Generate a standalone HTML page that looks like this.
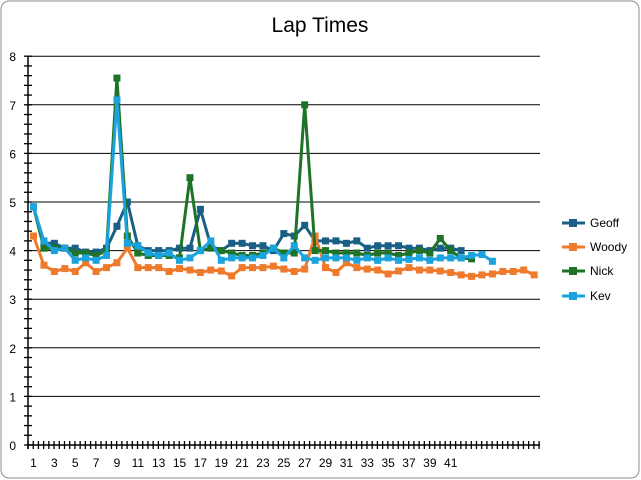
<!DOCTYPE html>
<html><head><meta charset="utf-8"><style>
body{margin:0;background:#fff;}
svg{display:block;font-family:"Liberation Sans",sans-serif;}
</style></head><body>
<svg id="c" width="641" height="480" xmlns="http://www.w3.org/2000/svg">
<rect x="1" y="1" width="638" height="477" rx="8" fill="#fff" stroke="#8c8c8c" stroke-width="1"/>
<text x="320" y="32" font-size="21" text-anchor="middle" fill="#000">Lap Times</text>
<g id="g"></g>
<g font-size="12" fill="#000">
<line x1="562" y1="223" x2="585" y2="223" stroke="#1a5f86" stroke-width="3"/><rect x="569" y="219" width="8" height="8" fill="#1a5f86"/><text x="590" y="227">Geoff</text>
<line x1="562" y1="247" x2="585" y2="247" stroke="#ef7a2c" stroke-width="3"/><rect x="569" y="243" width="8" height="8" fill="#ef7a2c"/><text x="590" y="251">Woody</text>
<line x1="562" y1="271" x2="585" y2="271" stroke="#1e7327" stroke-width="3"/><rect x="569" y="267" width="8" height="8" fill="#1e7327"/><text x="590" y="275">Nick</text>
<line x1="562" y1="296" x2="585" y2="296" stroke="#1aa3dc" stroke-width="3"/><rect x="569" y="292" width="8" height="8" fill="#1aa3dc"/><text x="590" y="300">Kev</text>
</g>
</svg>
<script>
var g=document.getElementById('g'),s='';
function Y(v){return 445-v*48.6;}
function X(i){return 33.5+(i-1)*10.43;}
for(var v=1;v<=8;v++){s+='<line x1="28" x2="540" y1="'+Y(v)+'" y2="'+Y(v)+'" stroke="#000" stroke-width="1"/>';}
for(var v=0;v<=8;v++){s+='<text x="16" y="'+(Y(v)+5)+'" font-size="12" text-anchor="end">'+v+'</text>';}
for(var k=0;k<=40;k++){var y=Y(k*0.2);s+='<line x1="24" x2="32" y1="'+y+'" y2="'+y+'" stroke="#000" stroke-width="1.3"/>';}
for(var i=0;i<=98;i++){var x=28+i*5.215;s+='<line x1="'+x+'" x2="'+x+'" y1="441" y2="449" stroke="#000" stroke-width="1.3"/>';}
s+='<line x1="28" x2="28" y1="'+Y(8)+'" y2="449" stroke="#000" stroke-width="1.5"/>';
s+='<line x1="28" x2="540" y1="445" y2="445" stroke="#000" stroke-width="1.5"/>';
for(var i=1;i<=41;i+=2){s+='<text x="'+X(i)+'" y="467" font-size="12" text-anchor="middle">'+i+'</text>';}
var data={
'#1a5f86':[4.9,4.15,4.15,4.05,4.05,3.97,3.97,4.05,4.5,5.0,4.1,4.0,4.0,4.0,4.05,4.05,4.85,4.1,4.0,4.15,4.15,4.1,4.1,4.0,4.35,4.3,4.52,4.2,4.2,4.2,4.15,4.2,4.05,4.1,4.1,4.1,4.05,4.05,4.0,4.05,4.05,4.0],
'#ef7a2c':[4.3,3.7,3.57,3.63,3.57,3.75,3.57,3.65,3.75,4.05,3.65,3.65,3.65,3.57,3.63,3.6,3.55,3.6,3.58,3.48,3.65,3.65,3.65,3.68,3.62,3.57,3.62,4.3,3.65,3.55,3.75,3.65,3.62,3.6,3.52,3.58,3.65,3.6,3.6,3.58,3.55,3.5,3.47,3.5,3.52,3.57,3.57,3.6,3.5],
'#1e7327':[4.9,4.05,4.05,4.05,3.95,3.95,3.9,4.0,7.55,4.3,3.95,3.9,3.9,3.9,3.85,5.5,4.0,4.05,4.0,3.95,3.9,3.9,3.95,4.05,3.95,3.95,7.0,4.0,4.0,3.95,3.95,3.95,3.9,3.95,3.95,3.9,3.95,4.0,3.95,4.25,4.0,3.85,3.83],
'#1aa3dc':[4.9,4.2,4.0,4.05,3.8,3.85,3.8,3.9,7.1,4.15,4.1,3.95,3.9,3.95,3.8,3.85,4.0,4.2,3.8,3.85,3.85,3.85,3.9,4.05,3.85,4.1,3.85,3.8,3.85,3.85,3.85,3.8,3.85,3.8,3.85,3.8,3.82,3.85,3.8,3.85,3.85,3.85,3.9,3.92,3.78]
};
for(var c in data){var d=data[c],p=[];for(var i=0;i<d.length;i++)p.push(X(i+1).toFixed(1)+','+Y(d[i]).toFixed(1));
s+='<polyline points="'+p.join(' ')+'" fill="none" stroke="'+c+'" stroke-width="3" stroke-linejoin="round"/>';
for(var i=0;i<d.length;i++)s+='<rect x="'+(X(i+1)-3.5)+'" y="'+(Y(d[i])-3.5)+'" width="7" height="7" fill="'+c+'"/>';}
g.innerHTML=s;
</script>
</body></html>
